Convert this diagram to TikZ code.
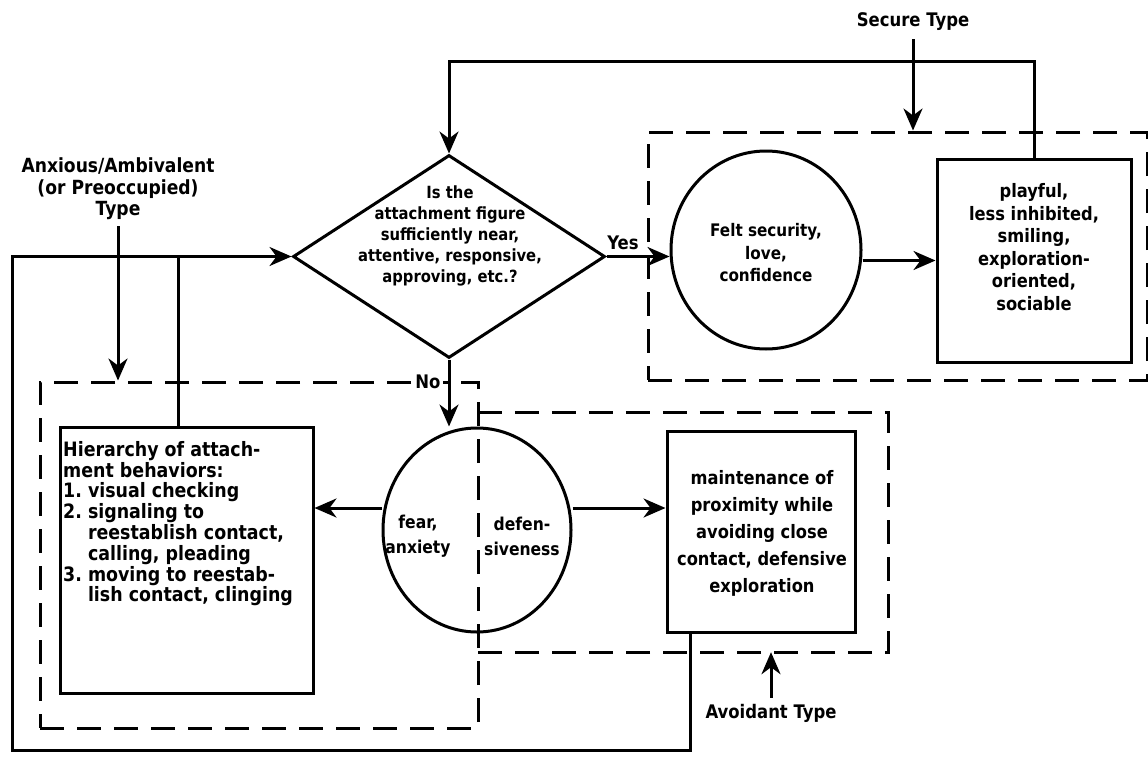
\documentclass[tikz,border=0pt]{standalone}
\usepackage{fontspec}
\setmainfont{DejaVu Sans}[FakeStretch=0.88]
\usetikzlibrary{shapes.geometric,arrows.meta,calc}
\tikzset{
  ln/.style={line width=3pt},
  arr/.style={line width=3pt,-{Stealth[length=22pt,width=19pt,inset=7pt]}},
  box/.style={draw,line width=3pt,rectangle,inner sep=0pt},
  circ/.style={draw,line width=3pt,ellipse,inner sep=0pt},
  dsh/.style={line width=3pt,dash pattern=on 24pt off 13pt},
  dbox/.style={draw,dsh,rectangle,inner sep=0pt},
  txt/.style={align=center,inner sep=0pt},
  fdia/.style={font=\bfseries\fontsize{16.8pt}{21pt}\selectfont},
  ffs/.style={font=\bfseries\fontsize{17.3pt}{22.5pt}\selectfont},
  fplay/.style={font=\bfseries\fontsize{18.5pt}{22.5pt}\selectfont},
  fmaint/.style={font=\bfseries\fontsize{18.5pt}{27pt}\selectfont},
  fhier/.style={font=\bfseries\fontsize{19.8pt}{20.8pt}\selectfont},
  ffear/.style={font=\bfseries\fontsize{17.7pt}{25pt}\selectfont},
  flab/.style={font=\bfseries\fontsize{18.7pt}{22pt}\selectfont},
  fanx/.style={font=\bfseries\fontsize{19.5pt}{21.5pt}\selectfont}
}
\begin{document}
\begin{tikzpicture}[x=1pt,y=-1pt]
\useasboundingbox (0,0) rectangle (1148,760);
\fill[white] (0,0) rectangle (1148,760);

% dashed grouping boxes
\node[dbox, minimum width=499pt, minimum height=248pt] (secbox) at (897.5,256) {};
\node[dbox, minimum width=438pt, minimum height=346pt] (anxbox) at (259,555) {};
\node[inner sep=0pt, minimum width=410pt, minimum height=239pt] (avbox) at (683,532.5) {};
\draw[dsh] (avbox.north west) -- (avbox.north east) -- (avbox.south east) -- (avbox.south west);

% main shapes
\node[diamond, draw, line width=3pt, minimum width=312pt, minimum height=203pt, inner sep=0pt] (dia) at (449,256.5) {};
\node[txt, fdia] (diatxt) at (450,236) {Is the\\attachment figure\\sufficiently near,\\attentive, responsive,\\approving, etc.?};

\node[circ, minimum width=190pt, minimum height=198pt] (fs) at (766,250) {};
\node[txt, ffs] (fstxt) at (766,253) {Felt security,\\love,\\confidence};

\node[box, minimum width=194pt, minimum height=203pt] (play) at (1034,260.5) {};
\node[txt, fplay] (playtxt) at (1034,247) {playful,\\less inhibited,\\smiling,\\exploration-\\oriented,\\sociable};

\node[circ, minimum width=188pt, minimum height=204pt] (fear) at (477,530) {};
\node[txt, ffear] (feartxt) at (418,536) {fear,\\anxiety};
\node[txt, ffear] (deftxt) at (522,536) {defen-\\siveness};

\node[box, minimum width=253pt, minimum height=266pt] (hier) at (186.5,560) {};
\node[inner sep=0pt, align=left, fhier, anchor=north west] (hiertxt) at (63,441)
 {Hierarchy of attach-\\ment behaviors:\\1.\ visual checking\\2.\ signaling to\\\phantom{2.\ }reestablish contact,\\\phantom{2.\ }calling, pleading\\3.\ moving to reestab-\\\phantom{3.\ }lish contact, clinging};

\node[box, minimum width=188pt, minimum height=201pt] (maint) at (761,531.5) {};
\node[txt, fmaint] (mainttxt) at (762,533) {maintenance of\\proximity while\\avoiding close\\contact, defensive\\exploration};

% labels
\node[txt, fanx] (anx) at (118,189) {Anxious/Ambivalent\\(or Preoccupied)\\Type};
\node[txt, flab] (sec) at (913,22) {Secure Type};
\node[txt, flab] (avt) at (771,713) {Avoidant Type};
\node[txt, flab] (yes) at (623,243) {Yes};
\node[txt, flab, fill=white, inner sep=2pt] (no) at (428,382) {No};

% helper coordinates
\coordinate (topy) at (0,62);
\coordinate (boty) at (0,750);
\coordinate (lftx) at (12,0);
\coordinate (midy) at (0,508);
\coordinate (mout) at ($(maint.south west)!0.13!(maint.south east)$);
\coordinate (hout) at ($(hier.north west)!0.47!(hier.north east)$);

% connectors
\draw[arr] ([yshift=-6pt]anx.south) -- (anx.south |- anxbox.north);
\draw[arr] ([yshift=-8pt]sec.south) -- (sec.south |- secbox.north);
\draw[arr] (play.north) |- (dia.north |- topy) -- (dia.north);
\draw[arr] (mout) -- (mout |- boty) -- (lftx |- boty) -- (lftx |- dia.west) -- (dia.west);
\draw[ln] (hout) -- (hout |- dia.west);
\draw[arr] (dia.east) -- (dia.east -| fs.west);
\draw[arr] (fs.east |- play.west) -- (play.west);
\draw[arr] (dia.south) -- (dia.south |- fear.north);
\draw[arr] (fear.west |- midy) -- (hier.east |- midy);
\draw[arr] (fear.east |- midy) -- (maint.west |- midy);
\draw[arr] ([yshift=6pt]avt.north) -- (avt.north |- avbox.south);
\end{tikzpicture}
\end{document}
